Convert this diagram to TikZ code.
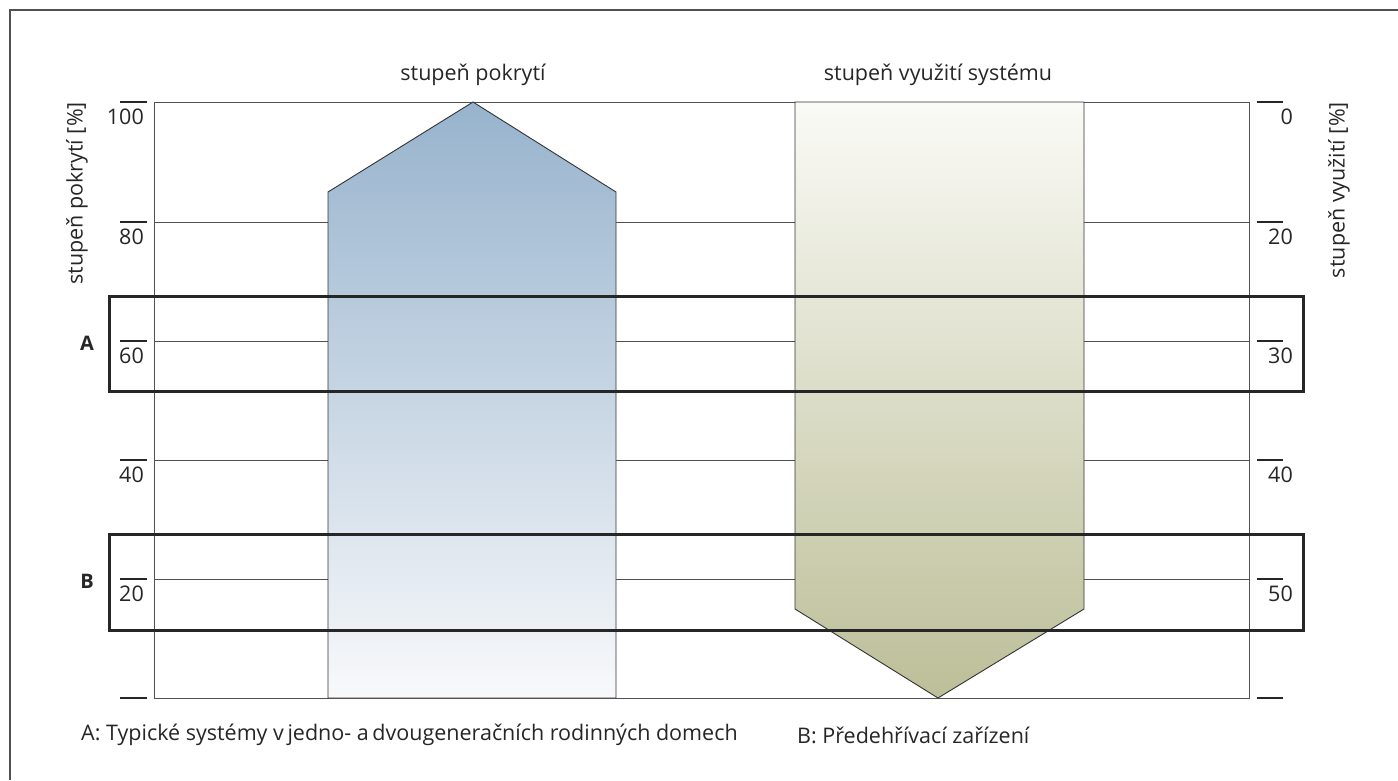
\documentclass[tikz,border=0pt]{standalone}
\usepackage{fontspec}
\setmainfont{Open Sans}
\definecolor{txt}{HTML}{262626}
\definecolor{gridc}{HTML}{505050}
\definecolor{bluetop}{HTML}{97B3CD}
\definecolor{bluebot}{HTML}{F8F9FB}
\definecolor{greentop}{HTML}{FAFAF6}
\definecolor{greenbot}{HTML}{BCBF98}
\tikzset{
  gridline/.style={draw=gridc, line width=1pt},
  tickmark/.style={draw=txt, line width=1.6pt},
  boxline/.style={draw=black!85, line width=3pt},
  lbl/.style={text=txt, font=\fontsize{21.5}{25}\selectfont, inner sep=0pt},
  ticklbl/.style={lbl, anchor=north east},
  letter/.style={text=txt, font=\fontsize{20}{24}\selectfont\bfseries, inner sep=0pt},
  shapeedge/.style={draw=black!80, line width=0.9pt}
}
\begin{document}
\begin{tikzpicture}[x=1pt,y=-1pt]
\useasboundingbox (0,0) rectangle (1398,780);
% outer frame
\draw[gridc, line width=1.5pt] (10,780) -- (10,10) -- (1398,10);
% chart frame
\coordinate (cTL) at (154,102);
\coordinate (cBR) at (1249,698);
\draw[gridline] (cTL) rectangle (cBR);
% grid lines
\foreach \y in {222,341,460,579} {
  \draw[gridline] (154,\y) -- (1249,\y);
}
% left ticks and labels
\foreach \y/\t [count=\i] in {102/100,222/80,341/60,460/40,579/20,698/{}} {
  \coordinate (lt\i a) at (120,\y);
  \coordinate (lt\i b) at (147,\y);
  \draw[tickmark] (lt\i a) -- (lt\i b);
  \node[ticklbl] (ln\i) at (144,\y+7) {\t};
}
% right ticks and labels
\foreach \y/\t [count=\i] in {102/0,222/20,341/30,460/40,579/50,698/{}} {
  \coordinate (rt\i a) at (1257,\y);
  \coordinate (rt\i b) at (1283,\y);
  \draw[tickmark] (rt\i a) -- (rt\i b);
  \node[ticklbl] (rn\i) at (1293,\y+7) {\t};
}
% blue arrow (stupen pokryti)
\shadedraw[shapeedge, top color=bluetop, bottom color=bluebot]
  (328,698) -- (328,192) -- (473,102) -- (616,192) -- (616,698) -- cycle;
% green arrow (stupen vyuziti)
\shadedraw[shapeedge, top color=greentop, bottom color=greenbot]
  (795,102) -- (1084,102) -- (1084,609) -- (938,698) -- (795,609) -- cycle;
% boxes A and B
\node[boxline, minimum width=1194pt, minimum height=95pt, inner sep=0pt, anchor=north west] (boxA) at (108,295) {};
\node[boxline, minimum width=1194pt, minimum height=96pt, inner sep=0pt, anchor=north west] (boxB) at (108,533) {};
\node[letter] (letA) at (87,343) {A};
\node[letter] (letB) at (87,581) {B};
% titles
\node[lbl] (t1) at (473,75) {stupeň pokrytí};
\node[lbl] (t2) at (938,75) {stupeň využití systému};
% axis titles
\node[lbl, rotate=90, anchor=east] (yl) at (77,102) {stupeň pokrytí [\%]};
\node[lbl, rotate=90, anchor=east] (yr) at (1339,102) {stupeň využití [\%]};
% footer
\node[lbl, anchor=west] (fa) at (81,735) {A: Typické systémy v\,jedno- a\,dvougeneračních rodinných domech};
\node[lbl, anchor=west] (fb) at (797,735) {B: Předehřívací zařízení};
\end{tikzpicture}
\end{document}
